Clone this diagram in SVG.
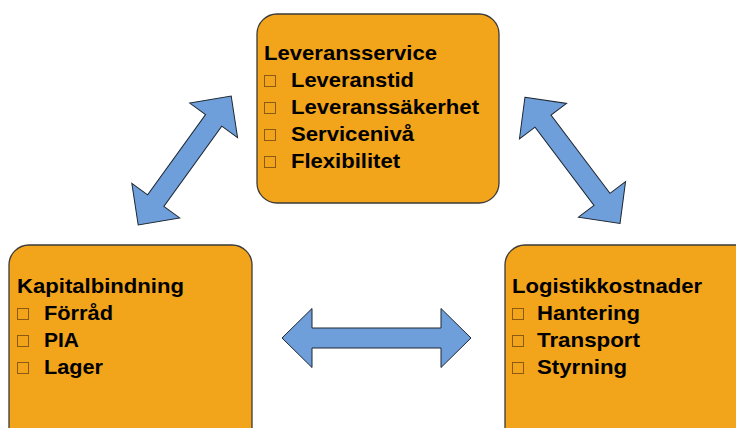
<svg xmlns="http://www.w3.org/2000/svg" width="736" height="428" viewBox="0 0 736 428">
  <style>
    .box { fill: #F2A41A; stroke: #3a3a3a; stroke-width: 1.3; }
    .t { font-family: "Liberation Sans", Arial, sans-serif; font-weight: bold; font-size: 21px; fill: #000; }
    .bul { fill: none; stroke: #8a5a12; stroke-width: 1; }
    .arrow { fill: #6E9FDA; stroke: #1e2630; stroke-width: 1; stroke-linejoin: miter; }
  </style>
  <rect width="736" height="428" fill="#fff"/>

  <g id="leveransservice">
    <rect class="box" x="257" y="14" width="242" height="189" rx="20" ry="20"/>
    <text class="t" x="264" y="60" textLength="173" lengthAdjust="spacingAndGlyphs">Leveransservice</text>
    <rect class="bul" x="264.5" y="75.5" width="11" height="11"/>
    <text class="t" x="291" y="87" textLength="123" lengthAdjust="spacingAndGlyphs">Leveranstid</text>
    <rect class="bul" x="264.5" y="102.5" width="11" height="11"/>
    <text class="t" x="291" y="114" textLength="188" lengthAdjust="spacingAndGlyphs">Leveranssäkerhet</text>
    <rect class="bul" x="264.5" y="129.5" width="11" height="11"/>
    <text class="t" x="291" y="141" textLength="123" lengthAdjust="spacingAndGlyphs">Servicenivå</text>
    <rect class="bul" x="264.5" y="156.5" width="11" height="11"/>
    <text class="t" x="291" y="168" textLength="109" lengthAdjust="spacingAndGlyphs">Flexibilitet</text>
  </g>

  <g id="kapitalbindning">
    <rect class="box" x="9" y="245" width="243" height="210" rx="20" ry="20"/>
    <text class="t" x="17" y="293" textLength="167" lengthAdjust="spacingAndGlyphs">Kapitalbindning</text>
    <rect class="bul" x="17.5" y="308.5" width="11" height="11"/>
    <text class="t" x="44" y="320" textLength="69" lengthAdjust="spacingAndGlyphs">Förråd</text>
    <rect class="bul" x="17.5" y="335.5" width="11" height="11"/>
    <text class="t" x="44" y="347" textLength="35" lengthAdjust="spacingAndGlyphs">PIA</text>
    <rect class="bul" x="17.5" y="362.5" width="11" height="11"/>
    <text class="t" x="44" y="374" textLength="59" lengthAdjust="spacingAndGlyphs">Lager</text>
  </g>

  <g id="logistikkostnader">
    <rect class="box" x="505" y="245" width="260" height="210" rx="20" ry="20"/>
    <text class="t" x="512" y="293" textLength="190" lengthAdjust="spacingAndGlyphs">Logistikkostnader</text>
    <rect class="bul" x="512.5" y="308.5" width="11" height="11"/>
    <text class="t" x="537" y="320" textLength="103" lengthAdjust="spacingAndGlyphs">Hantering</text>
    <rect class="bul" x="512.5" y="335.5" width="11" height="11"/>
    <text class="t" x="537" y="347" textLength="103" lengthAdjust="spacingAndGlyphs">Transport</text>
    <rect class="bul" x="512.5" y="362.5" width="11" height="11"/>
    <text class="t" x="537" y="374" textLength="90" lengthAdjust="spacingAndGlyphs">Styrning</text>
  </g>

  <g id="connectors">
    <!-- double-headed block arrows, drawn centred on the origin then placed -->
    <path class="arrow" transform="translate(184.7 160.5) rotate(-54.2)"
          d="M-79.5 0 L-49.5 -29.5 L-49.5 -10 L49.5 -10 L49.5 -29.5 L79.5 0 L49.5 29.5 L49.5 10 L-49.5 10 L-49.5 29.5 Z"/>
    <path class="arrow" transform="translate(572.5 160.3) rotate(53)"
          d="M-79 0 L-49 -29.5 L-49 -10 L49 -10 L49 -29.5 L79 0 L49 29.5 L49 10 L-49 10 L-49 29.5 Z"/>
    <path class="arrow" transform="translate(376.5 338)"
          d="M-94.5 0 L-64.5 -29.5 L-64.5 -10 L64.5 -10 L64.5 -29.5 L94.5 0 L64.5 29.5 L64.5 10 L-64.5 10 L-64.5 29.5 Z"/>
  </g>
</svg>
